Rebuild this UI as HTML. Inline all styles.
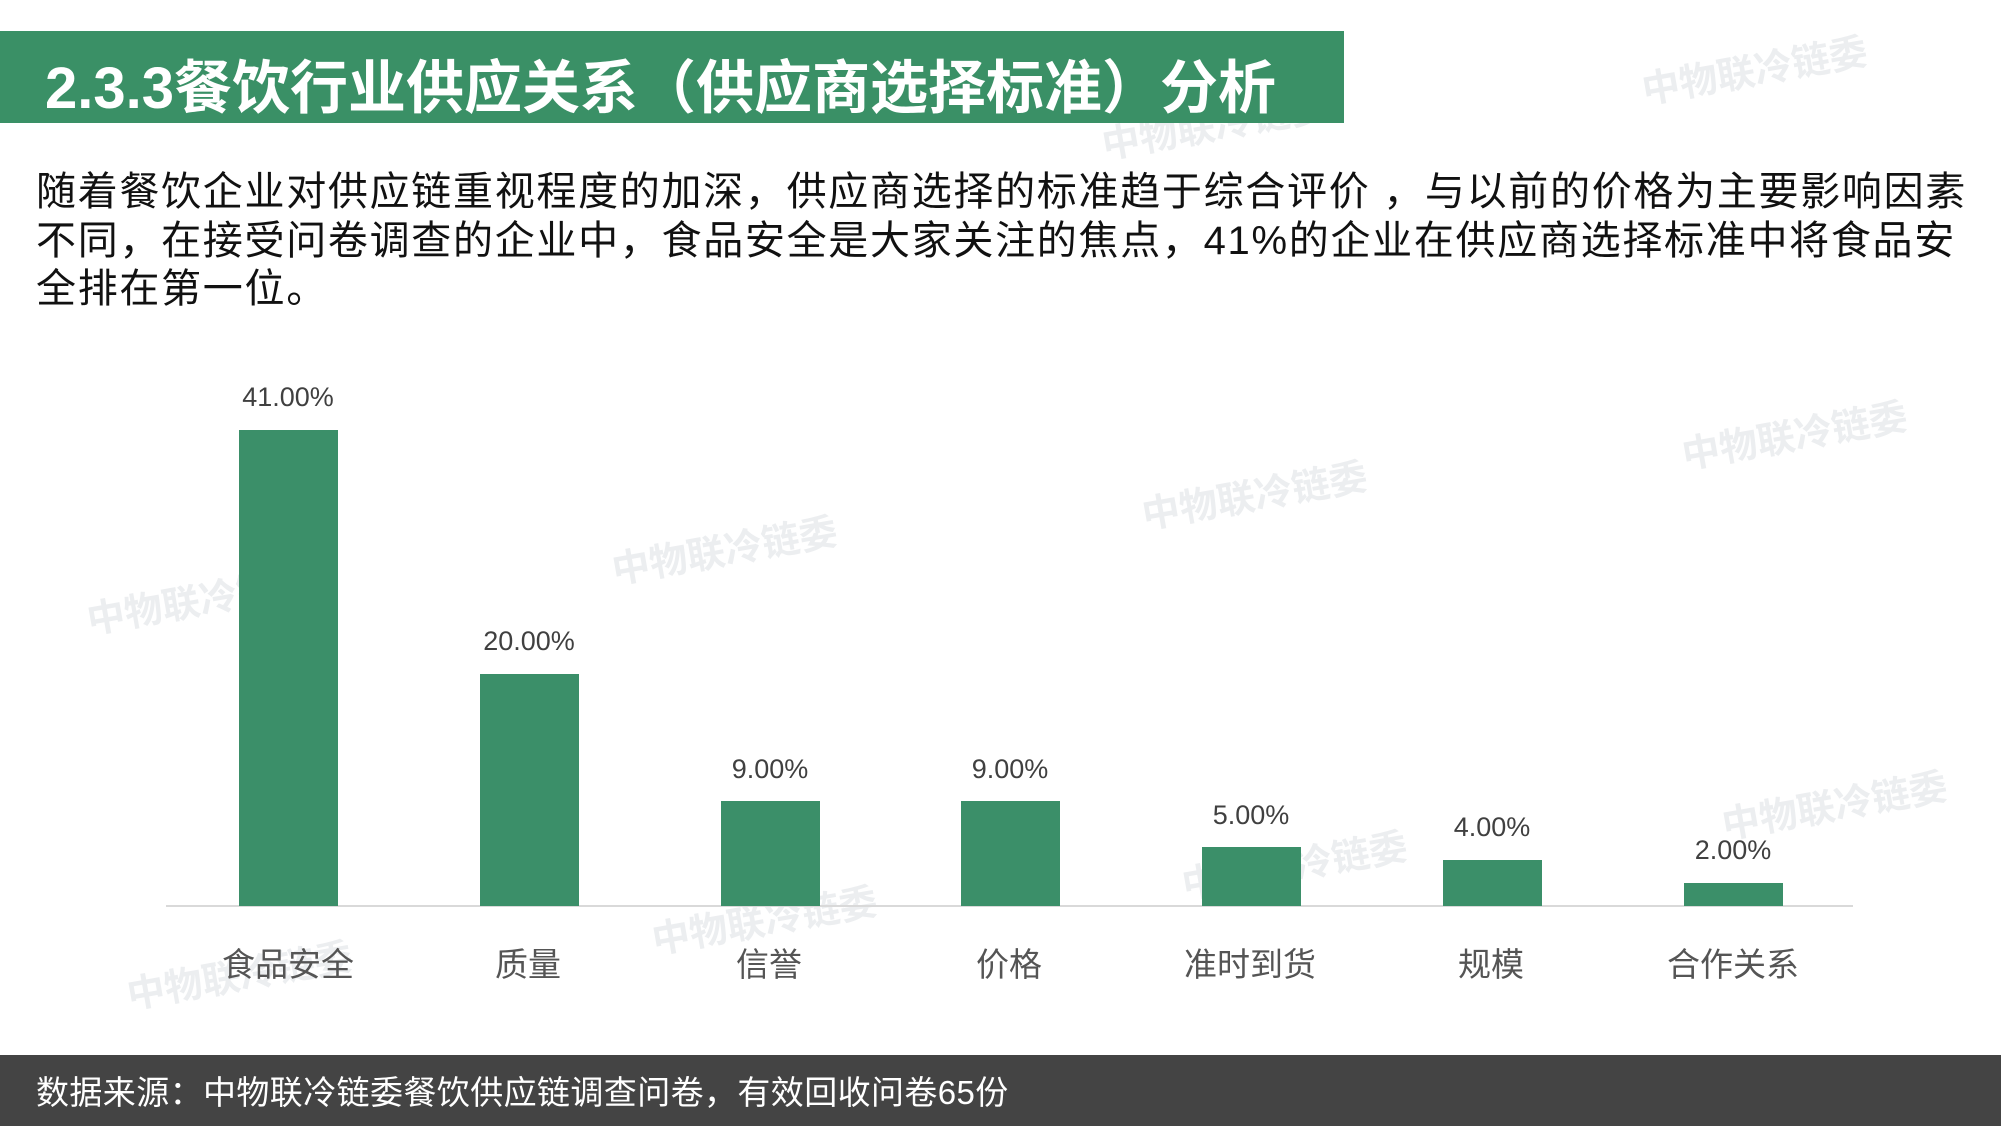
<!DOCTYPE html>
<html><head><meta charset="utf-8"><style>
body{margin:0;width:2001px;height:1126px;overflow:hidden;background:#fff;position:relative;font-family:"Liberation Sans","Noto Sans CJK SC",sans-serif}
.abs{position:absolute;white-space:nowrap}
.wm{position:absolute;color:#eceef0;font-size:38px;font-weight:bold;transform:rotate(-10deg);white-space:nowrap;font-family:"Noto Sans CJK SC",sans-serif}
.bar{position:absolute;background:#3b8f69;width:99px}
.val{position:absolute;width:200px;text-align:center;font-size:27px;color:#404040}
.cat{position:absolute;width:240px;text-align:center;font-size:33px;color:#555;top:938px}
</style></head><body>
<div class="wm" style="left:1640px;top:40px">中物联冷链委</div>
<div class="wm" style="left:1100px;top:95px">中物联冷链委</div>
<div class="wm" style="left:1680px;top:405px">中物联冷链委</div>
<div class="wm" style="left:1140px;top:465px">中物联冷链委</div>
<div class="wm" style="left:610px;top:520px">中物联冷链委</div>
<div class="wm" style="left:85px;top:570px">中物联冷链委</div>
<div class="wm" style="left:1720px;top:775px">中物联冷链委</div>
<div class="wm" style="left:1180px;top:835px">中物联冷链委</div>
<div class="wm" style="left:650px;top:890px">中物联冷链委</div>
<div class="wm" style="left:125px;top:945px">中物联冷链委</div>
<div class="abs" style="left:0;top:31px;width:1344px;height:92px;background:#3a9066"></div>
<div class="abs" style="left:45px;top:56px;font-size:58px;font-weight:bold;color:#fff;line-height:66px;letter-spacing:0px">2.3.3餐饮行业供应关系（供应商选择标准）分析</div>
<div class="abs" style="left:36px;top:168px;font-size:40px;color:#111;line-height:48.5px;letter-spacing:1.7px">随着餐饮企业对供应链重视程度的加深，供应商选择的标准趋于综合评价 ，与以前的价格为主要影响因素<br>不同，在接受问卷调查的企业中，食品安全是大家关注的焦点，41%的企业在供应商选择标准中将食品安<br>全排在第一位。</div>
<div class="abs" style="left:166px;top:905px;width:1687px;height:2px;background:#d9d9d9"></div>
<div class="bar" style="left:239px;top:430px;height:476px"></div>
<div class="bar" style="left:480px;top:674px;height:232px"></div>
<div class="bar" style="left:721px;top:801px;height:105px"></div>
<div class="bar" style="left:961px;top:801px;height:105px"></div>
<div class="bar" style="left:1202px;top:847px;height:59px"></div>
<div class="bar" style="left:1443px;top:860px;height:46px"></div>
<div class="bar" style="left:1684px;top:883px;height:23px"></div>
<div class="val" style="left:188px;top:382px">41.00%</div>
<div class="val" style="left:429px;top:626px">20.00%</div>
<div class="val" style="left:670px;top:754px">9.00%</div>
<div class="val" style="left:910px;top:754px">9.00%</div>
<div class="val" style="left:1151px;top:800px">5.00%</div>
<div class="val" style="left:1392px;top:812px">4.00%</div>
<div class="val" style="left:1633px;top:835px">2.00%</div>
<div class="cat" style="left:168px">食品安全</div>
<div class="cat" style="left:408px">质量</div>
<div class="cat" style="left:649px">信誉</div>
<div class="cat" style="left:889px">价格</div>
<div class="cat" style="left:1130px">准时到货</div>
<div class="cat" style="left:1371px">规模</div>
<div class="cat" style="left:1613px">合作关系</div>
<div class="abs" style="left:0;top:1055px;width:2001px;height:71px;background:#444"></div>
<div class="abs" style="left:36px;top:1072px;font-size:33px;color:#fff;line-height:42px;letter-spacing:0.4px">数据来源：中物联冷链委餐饮供应链调查问卷，有效回收问卷65份</div>
</body></html>
